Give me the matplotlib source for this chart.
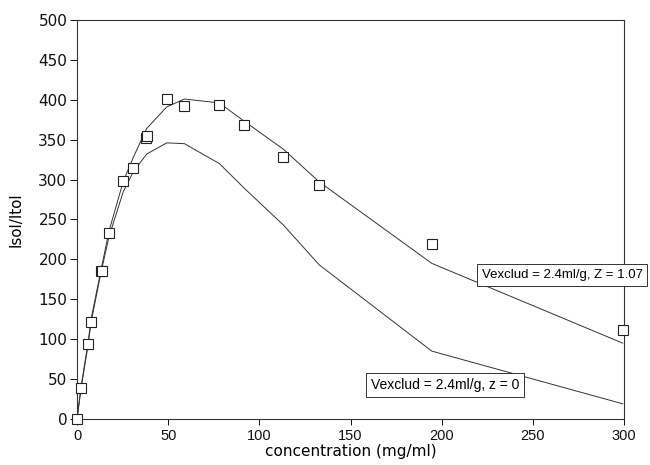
import matplotlib
matplotlib.use("Agg")
import matplotlib.pyplot as plt

plt.rcParams['font.family'] = ['Liberation Sans', 'DejaVu Sans']

# measured data (squares)
conc_data = [0, 2.2, 6.0, 7.7, 13.0, 13.6, 17.6, 25.4, 30.9, 38.0, 38.4, 49.2, 58.9, 78.1, 91.8, 113.2, 132.9, 194.6, 299.3]
isol_data = [0, 39, 94, 121, 185, 185, 233, 298, 315, 352, 355, 401, 392, 393, 369, 328, 293, 219, 112]

# model curves
conc_model = [0, 2.2, 6.0, 7.7, 13.0, 17.6, 25.4, 30.9, 38.2, 49.2, 58.9, 78.1, 91.8, 113.2, 132.9, 194.6, 299.3]
upper_model = [0, 40, 95, 125, 185, 236, 298, 328, 364, 391, 401, 396, 373, 338, 297, 195, 95]
lower_model = [0, 38, 92, 121, 182, 229, 285, 310, 332, 346, 345, 320, 289, 243, 193, 85, 19]

xticks = [0, 50, 100, 150, 200, 250, 300]
yticks = [0, 50, 100, 150, 200, 250, 300, 350, 400, 450, 500]

fig = plt.figure(figsize=(6.5, 4.65), dpi=100)
ax = fig.add_axes([0.1185, 0.099, 0.8415, 0.858])

ax.plot(conc_model, upper_model, color='#333333', lw=0.7)
ax.plot(conc_model, lower_model, color='#333333', lw=0.7)
ax.plot(conc_data, isol_data, linestyle='none', marker='s', markersize=7,
        markerfacecolor='white', markeredgecolor='#222222', markeredgewidth=0.8,
        clip_on=False, zorder=5)

ax.set_xlim(0, 300)
ax.set_ylim(0, 500)
ax.set_xticks(xticks)
ax.set_yticks(yticks)
ax.tick_params(axis='x', direction='out', length=4, width=0.7, pad=3, colors='#111111')
ax.tick_params(axis='y', direction='out', length=5, width=0.7, pad=2, colors='#111111')
for lab in ax.get_xticklabels():
    lab.set_fontfamily('Liberation Sans')
    lab.set_fontsize(10.5)
for lab in ax.get_yticklabels():
    lab.set_fontfamily('DejaVu Sans')
    lab.set_fontsize(11)
for s in ax.spines.values():
    s.set_linewidth(0.8)
    s.set_color('#333333')

ax.set_xlabel('concentration (mg/ml)', fontsize=11, family='DejaVu Sans')
ax.set_ylabel('Isol/Itol', fontsize=10.9, family='DejaVu Sans')
ax.xaxis.set_label_coords(0.501, -0.063)
ax.yaxis.set_label_coords(-0.098, 0.5)

bbox = dict(boxstyle='square,pad=0.35', facecolor='white', edgecolor='#333333', linewidth=0.7)
ax.text(222.0, 180.4, 'Vexclud = 2.4ml/g, Z = 1.07', fontsize=9.5, va='center', ha='left', bbox=bbox, clip_on=False)
ax.text(161.1, 42.6, 'Vexclud = 2.4ml/g, z = 0', fontsize=10, va='center', ha='left', bbox=bbox, clip_on=False)

fig.savefig('out.png', dpi=100)
